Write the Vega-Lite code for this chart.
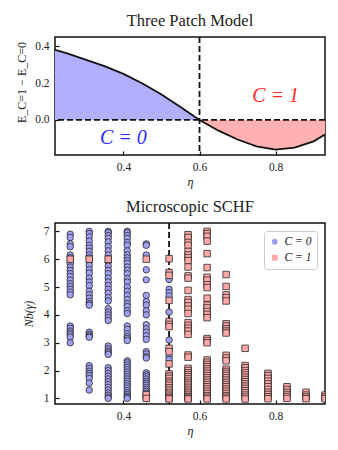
{
  "$schema": "https://vega.github.io/schema/vega-lite/v6.json",
  "padding": {"left": 14, "top": 11, "right": 15, "bottom": 5},
  "bounds": "flush",
  "spacing": 68,
  "resolve": {"scale": {"x": "independent", "y": "independent", "color": "independent", "fill": "independent", "shape": "independent"}, "legend": {"color": "independent", "fill": "independent", "shape": "independent"}},
  "config": {
    "font": "Liberation Serif",
    "view": {"stroke": "#111", "strokeWidth": 1.5},
    "axis": {"domain": false, "grid": false, "tickColor": "#111", "tickSize": -4, "tickWidth": 1.2, "labelPadding": 10, "labelFontSize": 11.5, "labelColor": "#222", "titleFontSize": 12, "titleColor": "#222", "titleFontWeight": "normal", "labelFont": "Liberation Serif", "titleFont": "Liberation Serif"},
    "title": {"fontSize": 16.5, "fontWeight": "normal", "font": "Liberation Serif", "offset": 7, "color": "#222"},
    "legend": {"fillColor": "white", "strokeColor": "#ccc", "padding": 5, "cornerRadius": 3, "labelFontSize": 11.5, "labelFontStyle": "italic", "labelFont": "Liberation Serif", "labelColor": "#222", "symbolSize": 34, "rowPadding": 3, "symbolStrokeColor": "#333", "symbolStrokeWidth": 0.8}
  },
  "datasets": {
    "one": [{}],
    "curve": [
      {"e": 0.22, "v": 0.380, "s": "c0"},
      {"e": 0.25, "v": 0.363, "s": "c0"},
      {"e": 0.30, "v": 0.327, "s": "c0"},
      {"e": 0.35, "v": 0.292, "s": "c0"},
      {"e": 0.40, "v": 0.250, "s": "c0"},
      {"e": 0.45, "v": 0.198, "s": "c0"},
      {"e": 0.50, "v": 0.138, "s": "c0"},
      {"e": 0.55, "v": 0.070, "s": "c0"},
      {"e": 0.60, "v": 0.000, "s": "c0"},
      {"e": 0.60, "v": 0.000, "s": "c1"},
      {"e": 0.65, "v": -0.058, "s": "c1"},
      {"e": 0.70, "v": -0.106, "s": "c1"},
      {"e": 0.75, "v": -0.143, "s": "c1"},
      {"e": 0.80, "v": -0.161, "s": "c1"},
      {"e": 0.85, "v": -0.150, "s": "c1"},
      {"e": 0.90, "v": -0.116, "s": "c1"},
      {"e": 0.93, "v": -0.079, "s": "c1"}
    ],
    "labels": [
      {"e": 0.4, "v": -0.097, "t": "C = 0", "k": "c0"},
      {"e": 0.8, "v": 0.13, "t": "C = 1", "k": "c1"}
    ],
    "pts": [
      {"e":0.26,"n":6.9,"c":0},{"e":0.26,"n":6.78,"c":0},{"e":0.26,"n":6.55,"c":0},{"e":0.26,"n":6.45,"c":0},{"e":0.26,"n":6.15,"c":0},{"e":0.26,"n":6.05,"c":0},{"e":0.26,"n":5.95,"c":0},{"e":0.26,"n":5.85,"c":0},{"e":0.26,"n":5.72,"c":0},{"e":0.26,"n":5.6,"c":0},{"e":0.26,"n":5.48,"c":0},{"e":0.26,"n":5.38,"c":0},{"e":0.26,"n":5.25,"c":0},{"e":0.26,"n":5.12,"c":0},{"e":0.26,"n":5.02,"c":0},{"e":0.26,"n":4.92,"c":0},{"e":0.26,"n":4.82,"c":0},{"e":0.26,"n":4.72,"c":0},{"e":0.26,"n":3.6,"c":0},{"e":0.26,"n":3.52,"c":0},{"e":0.26,"n":3.42,"c":0},{"e":0.26,"n":3.35,"c":0},{"e":0.26,"n":3.28,"c":0},{"e":0.26,"n":3.2,"c":0},{"e":0.26,"n":3.0,"c":0},
      {"e":0.31,"n":7.0,"c":0},{"e":0.31,"n":6.92,"c":0},{"e":0.31,"n":6.8,"c":0},{"e":0.31,"n":6.65,"c":0},{"e":0.31,"n":6.5,"c":0},{"e":0.31,"n":6.4,"c":0},{"e":0.31,"n":6.28,"c":0},{"e":0.31,"n":6.15,"c":0},{"e":0.31,"n":6.05,"c":0},{"e":0.31,"n":5.92,"c":0},{"e":0.31,"n":5.78,"c":0},{"e":0.31,"n":5.62,"c":0},{"e":0.31,"n":5.5,"c":0},{"e":0.31,"n":5.32,"c":0},{"e":0.31,"n":5.18,"c":0},{"e":0.31,"n":5.05,"c":0},{"e":0.31,"n":4.85,"c":0},{"e":0.31,"n":4.72,"c":0},{"e":0.31,"n":4.6,"c":0},{"e":0.31,"n":4.48,"c":0},{"e":0.31,"n":4.4,"c":0},{"e":0.31,"n":4.35,"c":0},{"e":0.31,"n":3.38,"c":0},{"e":0.31,"n":3.3,"c":0},{"e":0.31,"n":3.24,"c":0},{"e":0.31,"n":3.2,"c":0},{"e":0.31,"n":2.18,"c":0},{"e":0.31,"n":2.08,"c":0},{"e":0.31,"n":1.98,"c":0},{"e":0.31,"n":1.9,"c":0},{"e":0.31,"n":1.82,"c":0},{"e":0.31,"n":1.72,"c":0},{"e":0.31,"n":1.55,"c":0},{"e":0.31,"n":1.3,"c":0},
      {"e":0.36,"n":7.0,"c":0},{"e":0.36,"n":6.95,"c":0},{"e":0.36,"n":6.85,"c":0},{"e":0.36,"n":6.75,"c":0},{"e":0.36,"n":6.62,"c":0},{"e":0.36,"n":6.45,"c":0},{"e":0.36,"n":6.3,"c":0},{"e":0.36,"n":6.15,"c":0},{"e":0.36,"n":6.02,"c":0},{"e":0.36,"n":5.9,"c":0},{"e":0.36,"n":5.75,"c":0},{"e":0.36,"n":5.6,"c":0},{"e":0.36,"n":5.48,"c":0},{"e":0.36,"n":5.32,"c":0},{"e":0.36,"n":5.18,"c":0},{"e":0.36,"n":5.05,"c":0},{"e":0.36,"n":4.92,"c":0},{"e":0.36,"n":4.78,"c":0},{"e":0.36,"n":4.62,"c":0},{"e":0.36,"n":4.5,"c":0},{"e":0.36,"n":4.22,"c":0},{"e":0.36,"n":4.1,"c":0},{"e":0.36,"n":4.0,"c":0},{"e":0.36,"n":3.9,"c":0},{"e":0.36,"n":3.8,"c":0},{"e":0.36,"n":2.88,"c":0},{"e":0.36,"n":2.78,"c":0},{"e":0.36,"n":2.7,"c":0},{"e":0.36,"n":2.64,"c":0},{"e":0.36,"n":2.58,"c":0},{"e":0.36,"n":2.1,"c":0},{"e":0.36,"n":2.0,"c":0},{"e":0.36,"n":1.9,"c":0},{"e":0.36,"n":1.8,"c":0},{"e":0.36,"n":1.7,"c":0},{"e":0.36,"n":1.6,"c":0},{"e":0.36,"n":1.5,"c":0},{"e":0.36,"n":1.4,"c":0},{"e":0.36,"n":1.3,"c":0},{"e":0.36,"n":1.2,"c":0},{"e":0.36,"n":1.12,"c":0},{"e":0.36,"n":1.05,"c":0},{"e":0.36,"n":1.0,"c":0},
      {"e":0.41,"n":7.0,"c":0},{"e":0.41,"n":6.95,"c":0},{"e":0.41,"n":6.85,"c":0},{"e":0.41,"n":6.75,"c":0},{"e":0.41,"n":6.6,"c":0},{"e":0.41,"n":6.5,"c":0},{"e":0.41,"n":6.3,"c":0},{"e":0.41,"n":6.15,"c":0},{"e":0.41,"n":6.05,"c":0},{"e":0.41,"n":5.95,"c":0},{"e":0.41,"n":5.85,"c":0},{"e":0.41,"n":5.72,"c":0},{"e":0.41,"n":5.6,"c":0},{"e":0.41,"n":5.48,"c":0},{"e":0.41,"n":5.3,"c":0},{"e":0.41,"n":5.18,"c":0},{"e":0.41,"n":5.0,"c":0},{"e":0.41,"n":4.85,"c":0},{"e":0.41,"n":4.7,"c":0},{"e":0.41,"n":4.55,"c":0},{"e":0.41,"n":4.4,"c":0},{"e":0.41,"n":4.3,"c":0},{"e":0.41,"n":4.15,"c":0},{"e":0.41,"n":4.05,"c":0},{"e":0.41,"n":3.6,"c":0},{"e":0.41,"n":3.48,"c":0},{"e":0.41,"n":3.32,"c":0},{"e":0.41,"n":3.22,"c":0},{"e":0.41,"n":3.15,"c":0},{"e":0.41,"n":3.08,"c":0},{"e":0.41,"n":2.35,"c":0},{"e":0.41,"n":2.28,"c":0},{"e":0.41,"n":2.2,"c":0},{"e":0.41,"n":2.12,"c":0},{"e":0.41,"n":2.03,"c":0},{"e":0.41,"n":1.95,"c":0},{"e":0.41,"n":1.87,"c":0},{"e":0.41,"n":1.78,"c":0},{"e":0.41,"n":1.7,"c":0},{"e":0.41,"n":1.62,"c":0},{"e":0.41,"n":1.53,"c":0},{"e":0.41,"n":1.45,"c":0},{"e":0.41,"n":1.37,"c":0},{"e":0.41,"n":1.28,"c":0},{"e":0.41,"n":1.2,"c":0},{"e":0.41,"n":1.14,"c":0},{"e":0.41,"n":1.08,"c":0},{"e":0.41,"n":1.03,"c":0},{"e":0.41,"n":1.0,"c":0},
      {"e":0.46,"n":6.55,"c":0},{"e":0.46,"n":6.5,"c":0},{"e":0.46,"n":6.15,"c":0},{"e":0.46,"n":5.62,"c":0},{"e":0.46,"n":5.26,"c":0},{"e":0.46,"n":4.7,"c":0},{"e":0.46,"n":4.48,"c":0},{"e":0.46,"n":4.35,"c":0},{"e":0.46,"n":4.15,"c":0},{"e":0.46,"n":4.0,"c":0},{"e":0.46,"n":3.65,"c":0},{"e":0.46,"n":3.5,"c":0},{"e":0.46,"n":3.38,"c":0},{"e":0.46,"n":3.25,"c":0},{"e":0.46,"n":3.12,"c":0},{"e":0.46,"n":2.68,"c":0},{"e":0.46,"n":2.6,"c":0},{"e":0.46,"n":2.5,"c":0},{"e":0.46,"n":2.45,"c":0},{"e":0.46,"n":1.92,"c":0},{"e":0.46,"n":1.85,"c":0},{"e":0.46,"n":1.78,"c":0},{"e":0.46,"n":1.7,"c":0},{"e":0.46,"n":1.62,"c":0},{"e":0.46,"n":1.55,"c":0},{"e":0.46,"n":1.48,"c":0},{"e":0.46,"n":1.4,"c":0},{"e":0.46,"n":1.32,"c":0},{"e":0.46,"n":1.25,"c":0},{"e":0.46,"n":1.18,"c":0},{"e":0.46,"n":1.1,"c":0},{"e":0.46,"n":1.04,"c":0},{"e":0.46,"n":1.0,"c":0},
      {"e":0.52,"n":5.27,"c":0},{"e":0.52,"n":4.92,"c":0},{"e":0.52,"n":4.8,"c":0},{"e":0.52,"n":4.68,"c":0},{"e":0.52,"n":4.1,"c":0},{"e":0.52,"n":3.1,"c":0},{"e":0.52,"n":2.5,"c":0},{"e":0.52,"n":2.4,"c":0},
      {"e":0.26,"n":6.0,"c":1},{"e":0.31,"n":6.0,"c":1},{"e":0.36,"n":6.0,"c":1},{"e":0.46,"n":6.0,"c":1},{"e":0.46,"n":1.13,"c":1},{"e":0.46,"n":1.0,"c":1},
      {"e":0.52,"n":6.02,"c":1},{"e":0.52,"n":5.52,"c":1},{"e":0.52,"n":5.42,"c":1},{"e":0.52,"n":4.52,"c":1},{"e":0.52,"n":3.76,"c":1},{"e":0.52,"n":3.66,"c":1},{"e":0.52,"n":3.58,"c":1},{"e":0.52,"n":2.8,"c":1},{"e":0.52,"n":2.68,"c":1},{"e":0.52,"n":2.24,"c":1},{"e":0.52,"n":1.88,"c":1},{"e":0.52,"n":1.8,"c":1},{"e":0.52,"n":1.72,"c":1},{"e":0.52,"n":1.62,"c":1},{"e":0.52,"n":1.55,"c":1},{"e":0.52,"n":1.47,"c":1},{"e":0.52,"n":1.38,"c":1},{"e":0.52,"n":1.3,"c":1},{"e":0.52,"n":1.22,"c":1},{"e":0.52,"n":1.15,"c":1},{"e":0.52,"n":1.08,"c":1},{"e":0.52,"n":1.02,"c":1},{"e":0.52,"n":0.98,"c":1},
      {"e":0.57,"n":6.88,"c":1},{"e":0.57,"n":6.78,"c":1},{"e":0.57,"n":6.6,"c":1},{"e":0.57,"n":6.5,"c":1},{"e":0.57,"n":6.28,"c":1},{"e":0.57,"n":6.15,"c":1},{"e":0.57,"n":6.05,"c":1},{"e":0.57,"n":5.95,"c":1},{"e":0.57,"n":5.72,"c":1},{"e":0.57,"n":5.4,"c":1},{"e":0.57,"n":5.32,"c":1},{"e":0.57,"n":4.88,"c":1},{"e":0.57,"n":4.55,"c":1},{"e":0.57,"n":4.45,"c":1},{"e":0.57,"n":4.32,"c":1},{"e":0.57,"n":4.2,"c":1},{"e":0.57,"n":4.05,"c":1},{"e":0.57,"n":3.72,"c":1},{"e":0.57,"n":3.62,"c":1},{"e":0.57,"n":3.52,"c":1},{"e":0.57,"n":3.42,"c":1},{"e":0.57,"n":3.3,"c":1},{"e":0.57,"n":2.56,"c":1},{"e":0.57,"n":2.48,"c":1},{"e":0.57,"n":2.08,"c":1},{"e":0.57,"n":2.0,"c":1},{"e":0.57,"n":1.92,"c":1},{"e":0.57,"n":1.85,"c":1},{"e":0.57,"n":1.78,"c":1},{"e":0.57,"n":1.7,"c":1},{"e":0.57,"n":1.62,"c":1},{"e":0.57,"n":1.55,"c":1},{"e":0.57,"n":1.48,"c":1},{"e":0.57,"n":1.4,"c":1},{"e":0.57,"n":1.33,"c":1},{"e":0.57,"n":1.26,"c":1},{"e":0.57,"n":1.19,"c":1},{"e":0.57,"n":1.12,"c":1},{"e":0.57,"n":1.06,"c":1},{"e":0.57,"n":1.01,"c":1},{"e":0.57,"n":0.98,"c":1},
      {"e":0.62,"n":7.0,"c":1},{"e":0.62,"n":6.92,"c":1},{"e":0.62,"n":6.82,"c":1},{"e":0.62,"n":6.65,"c":1},{"e":0.62,"n":6.2,"c":1},{"e":0.62,"n":5.7,"c":1},{"e":0.62,"n":5.35,"c":1},{"e":0.62,"n":5.25,"c":1},{"e":0.62,"n":5.08,"c":1},{"e":0.62,"n":4.98,"c":1},{"e":0.62,"n":4.6,"c":1},{"e":0.62,"n":4.35,"c":1},{"e":0.62,"n":4.25,"c":1},{"e":0.62,"n":4.12,"c":1},{"e":0.62,"n":4.02,"c":1},{"e":0.62,"n":3.9,"c":1},{"e":0.62,"n":3.15,"c":1},{"e":0.62,"n":3.08,"c":1},{"e":0.62,"n":3.0,"c":1},{"e":0.62,"n":2.38,"c":1},{"e":0.62,"n":2.3,"c":1},{"e":0.62,"n":2.22,"c":1},{"e":0.62,"n":2.14,"c":1},{"e":0.62,"n":2.06,"c":1},{"e":0.62,"n":1.98,"c":1},{"e":0.62,"n":1.9,"c":1},{"e":0.62,"n":1.82,"c":1},{"e":0.62,"n":1.74,"c":1},{"e":0.62,"n":1.66,"c":1},{"e":0.62,"n":1.58,"c":1},{"e":0.62,"n":1.5,"c":1},{"e":0.62,"n":1.42,"c":1},{"e":0.62,"n":1.34,"c":1},{"e":0.62,"n":1.26,"c":1},{"e":0.62,"n":1.18,"c":1},{"e":0.62,"n":1.1,"c":1},{"e":0.62,"n":1.04,"c":1},{"e":0.62,"n":0.98,"c":1},
      {"e":0.67,"n":5.45,"c":1},{"e":0.67,"n":5.02,"c":1},{"e":0.67,"n":4.72,"c":1},{"e":0.67,"n":4.62,"c":1},{"e":0.67,"n":4.5,"c":1},{"e":0.67,"n":3.68,"c":1},{"e":0.67,"n":3.6,"c":1},{"e":0.67,"n":3.5,"c":1},{"e":0.67,"n":3.42,"c":1},{"e":0.67,"n":3.35,"c":1},{"e":0.67,"n":2.55,"c":1},{"e":0.67,"n":2.45,"c":1},{"e":0.67,"n":2.35,"c":1},{"e":0.67,"n":2.05,"c":1},{"e":0.67,"n":1.97,"c":1},{"e":0.67,"n":1.9,"c":1},{"e":0.67,"n":1.82,"c":1},{"e":0.67,"n":1.74,"c":1},{"e":0.67,"n":1.66,"c":1},{"e":0.67,"n":1.58,"c":1},{"e":0.67,"n":1.5,"c":1},{"e":0.67,"n":1.42,"c":1},{"e":0.67,"n":1.34,"c":1},{"e":0.67,"n":1.26,"c":1},{"e":0.67,"n":1.18,"c":1},{"e":0.67,"n":1.1,"c":1},{"e":0.67,"n":1.04,"c":1},{"e":0.67,"n":0.98,"c":1},
      {"e":0.72,"n":2.8,"c":1},{"e":0.72,"n":2.18,"c":1},{"e":0.72,"n":2.1,"c":1},{"e":0.72,"n":2.0,"c":1},{"e":0.72,"n":1.92,"c":1},{"e":0.72,"n":1.84,"c":1},{"e":0.72,"n":1.76,"c":1},{"e":0.72,"n":1.68,"c":1},{"e":0.72,"n":1.6,"c":1},{"e":0.72,"n":1.52,"c":1},{"e":0.72,"n":1.44,"c":1},{"e":0.72,"n":1.36,"c":1},{"e":0.72,"n":1.28,"c":1},{"e":0.72,"n":1.2,"c":1},{"e":0.72,"n":1.12,"c":1},{"e":0.72,"n":1.05,"c":1},{"e":0.72,"n":0.98,"c":1},
      {"e":0.78,"n":1.9,"c":1},{"e":0.78,"n":1.82,"c":1},{"e":0.78,"n":1.72,"c":1},{"e":0.78,"n":1.62,"c":1},{"e":0.78,"n":1.52,"c":1},{"e":0.78,"n":1.42,"c":1},{"e":0.78,"n":1.32,"c":1},{"e":0.78,"n":1.22,"c":1},{"e":0.78,"n":1.14,"c":1},{"e":0.78,"n":1.06,"c":1},{"e":0.78,"n":0.99,"c":1},
      {"e":0.83,"n":1.42,"c":1},{"e":0.83,"n":1.32,"c":1},{"e":0.83,"n":1.22,"c":1},{"e":0.83,"n":1.14,"c":1},{"e":0.83,"n":1.07,"c":1},{"e":0.83,"n":1.0,"c":1},
      {"e":0.88,"n":1.22,"c":1},{"e":0.88,"n":1.12,"c":1},{"e":0.88,"n":1.05,"c":1},{"e":0.88,"n":0.99,"c":1},
      {"e":0.93,"n":1.12,"c":1},{"e":0.93,"n":1.05,"c":1},{"e":0.93,"n":0.99,"c":1}
    ]
  },
  "vconcat": [
    {
      "width": 270,
      "height": 118,
      "title": "Three Patch Model",
      "layer": [
        {
          "data": {"name": "curve"},
          "mark": {"type": "area", "opacity": 1, "clip": true},
          "encoding": {
            "x": {"field": "e", "type": "quantitative", "scale": {"domain": [0.22, 0.93], "nice": false, "zero": false}, "axis": {"values": [0.4, 0.6, 0.8], "format": ".1f", "title": "η", "titleFontStyle": "italic", "titlePadding": 4}},
            "y": {"field": "v", "type": "quantitative", "scale": {"domain": [-0.19, 0.45], "nice": false, "zero": false}, "axis": {"values": [0.0, 0.2, 0.4], "format": ".1f", "title": "E_C=1 − E_C=0", "titlePadding": 6, "titleY": 45}},
            "y2": {"datum": 0},
            "color": {"field": "s", "type": "nominal", "scale": {"domain": ["c0", "c1"], "range": ["#b0b0ff", "#ffb0b0"]}, "legend": null}
          }
        },
        {
          "data": {"name": "curve"},
          "mark": {"type": "line", "color": "#111", "strokeWidth": 1.8, "clip": true},
          "encoding": {
            "x": {"field": "e", "type": "quantitative"},
            "y": {"field": "v", "type": "quantitative"},
            "detail": {"field": "s"}
          }
        },
        {
          "data": {"name": "one"},
          "mark": {"type": "rule", "color": "#111", "strokeWidth": 1.8, "strokeDash": [6, 3]},
          "encoding": {"y": {"datum": 0, "type": "quantitative"}}
        },
        {
          "data": {"name": "one"},
          "mark": {"type": "rule", "color": "#111", "strokeWidth": 1.8, "strokeDash": [6, 3]},
          "encoding": {"x": {"datum": 0.6, "type": "quantitative"}}
        },
        {
          "data": {"name": "labels"},
          "mark": {"type": "text", "font": "Liberation Serif", "fontSize": 20, "fontStyle": "italic", "align": "center", "baseline": "middle"},
          "encoding": {
            "x": {"field": "e", "type": "quantitative"},
            "y": {"field": "v", "type": "quantitative"},
            "text": {"field": "t"},
            "color": {"field": "k", "type": "nominal", "scale": {"domain": ["c0", "c1"], "range": ["#2b2bff", "#ff2b2b"]}, "legend": null}
          }
        }
      ],
      "resolve": {"scale": {"color": "independent"}}
    },
    {
      "width": 270,
      "height": 181,
      "title": "Microscopic SCHF",
      "layer": [
        {
          "data": {"name": "one"},
          "mark": {"type": "rule", "color": "#111", "strokeWidth": 1.8, "strokeDash": [6, 3]},
          "encoding": {"x": {"datum": 0.52, "type": "quantitative", "scale": {"domain": [0.22, 0.93], "nice": false, "zero": false}}}
        },
        {
          "data": {"name": "pts"},
          "mark": {"type": "point", "filled": true, "opacity": 1, "stroke": "#222", "strokeWidth": 0.9, "strokeOpacity": 0.85, "size": 42, "clip": true},
          "encoding": {
            "x": {"field": "e", "type": "quantitative", "scale": {"domain": [0.22, 0.93], "nice": false, "zero": false}, "axis": {"values": [0.4, 0.6, 0.8], "format": ".1f", "title": "η", "titleFontStyle": "italic", "titlePadding": 4}},
            "y": {"field": "n", "type": "quantitative", "scale": {"domain": [0.8, 7.3], "nice": false, "zero": false}, "axis": {"values": [1, 2, 3, 4, 5, 6, 7], "format": "d", "title": "Nb(γ)", "titleFontStyle": "italic", "titlePadding": 8}},
            "fill": {"field": "c", "type": "nominal", "scale": {"domain": [0, 1], "range": ["#a0a0f2", "#ffa8a8"]}, "legend": {"orient": "top-right", "offset": 8, "title": null, "labelExpr": "'C = ' + datum.label"}},
            "shape": {"field": "c", "type": "nominal", "scale": {"domain": [0, 1], "range": ["circle", "square"]}, "legend": {"orient": "top-right", "offset": 8, "title": null, "labelExpr": "'C = ' + datum.label"}}
          }
        }
      ]
    }
  ]
}
